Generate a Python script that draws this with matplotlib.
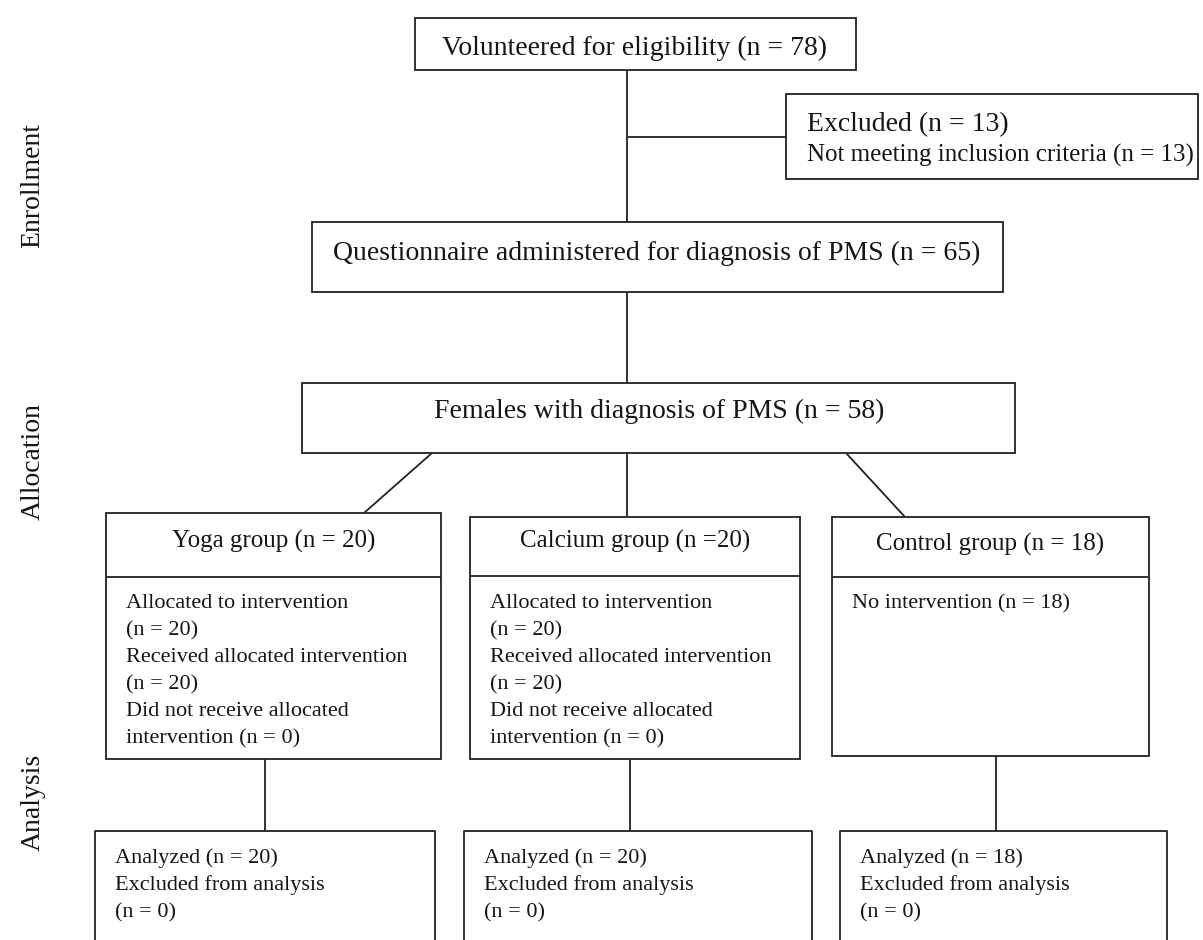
import matplotlib.pyplot as plt
from matplotlib.patches import Rectangle

# Flow chart counts
n_volunteered = 78
n_excluded = 13
n_questionnaire = 65
n_pms = 58

stage_labels = ['Enrollment', 'Allocation', 'Analysis']
group_headers = ['Yoga group (n = 20)', 'Calcium group (n =20)', 'Control group (n = 18)']
group_bodies = [
    ['Allocated to intervention', '(n = 20)', 'Received allocated intervention',
     '(n = 20)', 'Did not receive allocated', 'intervention (n = 0)'],
    ['Allocated to intervention', '(n = 20)', 'Received allocated intervention',
     '(n = 20)', 'Did not receive allocated', 'intervention (n = 0)'],
    ['No intervention (n = 18)'],
]
analyzed_n = [20, 20, 18]
excluded_analysis_n = [0, 0, 0]

plt.rcParams['font.family'] = ['Liberation Serif', 'DejaVu Serif']
LC = '#222222'
TC = '#151515'
LW = 1.3

fig = plt.figure(figsize=(12.03, 9.40), dpi=100)
ax = fig.add_axes([0, 0, 1, 1])
ax.set_xlim(0, 1203)
ax.set_ylim(940, 0)
ax.axis('off')


def box(x0, y0, x1, y1):
    ax.add_patch(Rectangle((x0, y0), x1 - x0, y1 - y0, fill=False,
                           edgecolor=LC, linewidth=LW))


def line(xs, ys):
    ax.plot(xs, ys, color=LC, linewidth=LW, solid_capstyle='butt')


def txt(x, y, s, size, ha='left', **kw):
    ax.text(x, y, s, fontsize=size, ha=ha, va='baseline', color=TC, **kw)


# Stage labels on the left
for label, yc in zip(stage_labels, [186, 462, 802]):
    ax.text(33, yc, label, fontsize=20, rotation=90, ha='center', va='center', color=TC)

# Top boxes
box(415, 18, 856, 70)
txt(635, 55, f'Volunteered for eligibility (n = {n_volunteered})', 20, ha='center')

box(786, 94, 1198, 179)
txt(807, 131, f'Excluded (n = {n_excluded})', 20)
txt(807, 162, f'Not meeting inclusion criteria (n = {n_excluded})', 18)

box(312, 222, 1003, 292)
txt(657, 260, f'Questionnaire administered for diagnosis of PMS (n = {n_questionnaire})', 20, ha='center')

box(302, 383, 1015, 453)
txt(659, 418, f'Females with diagnosis of PMS (n = {n_pms})', 20, ha='center')

# Connectors in the top part
line([627, 627], [70, 222])
line([627, 786], [137, 137])
line([627, 627], [292, 383])

# Group boxes
group_x = [(106, 441), (470, 800), (832, 1149)]
group_y = [(513, 577, 759), (517, 576, 759), (517, 577, 756)]
head_base = [548, 548, 551]
for (x0, x1), (y0, ydiv, y1), head, body, hb in zip(group_x, group_y, group_headers,
                                                   group_bodies, head_base):
    box(x0, y0, x1, y1)
    line([x0, x1], [ydiv, ydiv])
    txt((x0 + x1) / 2, hb, head, 18, ha='center')
    for i, s in enumerate(body):
        txt(x0 + 20, 608 + 27 * i, s, 16)

# Connectors from the PMS box to groups
line([432, 364], [453, 513])
line([627, 627], [453, 517])
line([846, 905], [453, 517])

# Analysis boxes (cut by the lower edge)
ana_x = [(95, 435), (464, 812), (840, 1167)]
down_x = [265, 630, 996]
for (x0, x1), dx, (gy0, gd, gy1), na, ne in zip(ana_x, down_x, group_y,
                                                analyzed_n, excluded_analysis_n):
    line([dx, dx], [gy1, 831])
    ax.plot([x0, x0, x1, x1], [960, 831, 831, 960], color=LC, linewidth=LW)
    txt(x0 + 20, 863, f'Analyzed (n = {na})', 16)
    txt(x0 + 20, 890, 'Excluded from analysis', 16)
    txt(x0 + 20, 917, f'(n = {ne})', 16)

fig.savefig('out.png', dpi=100)
